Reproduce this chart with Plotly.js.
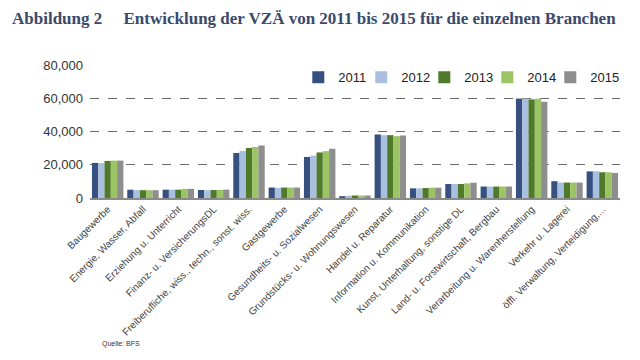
<!DOCTYPE html>
<html>
<head>
<meta charset="utf-8">
<script src="https://cdn.plot.ly/plotly-3.0.1.min.js"></script>
<style>html,body{margin:0;padding:0;background:#fff;}#chart{width:640px;height:360px;}</style>
</head>
<body>
<div id="chart"></div>
<script>
const categories = [
  "Baugewerbe",
  "Energie, Wasser, Abfall",
  "Erziehung u. Unterricht",
  "Finanz- u. VersicherungsDL",
  "Freiberufliche, wiss., techn., sonst. wiss.",
  "Gastgewerbe",
  "Gesundheits- u. Sozialwesen",
  "Grundstücks- u. Wohnungswesen",
  "Handel u. Reparatur",
  "Information u. Kommunikation",
  "Kunst, Unterhaltung, sonstige DL",
  "Land- u. Forstwirtschaft, Bergbau",
  "Verarbeitung u. Warenherstellung",
  "Verkehr u. Lagerei",
  "öffl. Verwaltung, Verteidigung,..."
];
const years = ["2011", "2012", "2013", "2014", "2015"];
const v2011 = [21100, 5000, 5000, 4800, 27100, 6300, 24700, 1100, 38200, 5800, 8400, 6900, 59800, 10100, 16000];
const v2012 = [21000, 4700, 5000, 4700, 28300, 6100, 25500, 1400, 37800, 5800, 8400, 6900, 59800, 9300, 16100];
const v2013 = [22300, 4700, 5000, 4800, 30100, 6300, 27400, 1500, 37800, 6000, 8400, 6900, 59300, 9300, 15500];
const v2014 = [22500, 4700, 5500, 4800, 30700, 6300, 28200, 1500, 37200, 6200, 8800, 6900, 59700, 9300, 15500];
const v2015 = [22500, 4700, 5500, 5000, 31600, 6300, 29600, 1500, 37600, 6200, 9200, 6900, 57900, 9300, 15100];
const series = [v2011, v2012, v2013, v2014, v2015];
const colors = ["#36517f", "#a9bfe0", "#4f7a2a", "#9cc465", "#8e8e8e"];

const data = years.map((y, i) => ({
  type: "bar",
  name: y,
  x: categories,
  y: series[i],
  marker: {color: colors[i], line: {width: 0}},
  legendwidth: i === years.length - 1 ? 30 : 18,
  hoverinfo: "none"
}));

const layout = {
  width: 640, height: 360,
  paper_bgcolor: "#fff", plot_bgcolor: "#fff",
  margin: {l: 90, r: 20, t: 65, b: 162},
  font: {family: "Liberation Sans, Arial, sans-serif", color: "#333"},
  title: {
    text: "Abbildung 2\u00a0\u00a0\u00a0\u00a0\u00a0Entwicklung der VZÄ von 2011 bis 2015 für die einzelnen Branchen",
    font: {family: "Liberation Serif, Times New Roman, serif", size: 17, color: "#3a4a6c", weight: "bold"},
    x: 12/640, xref: "container", xanchor: "left",
    y: 1 - 18/360, yref: "container", yanchor: "middle"
  },
  barmode: "group",
  bargap: 0.11,
  bargroupgap: 0,
  showlegend: true,
  legend: {
    orientation: "h",
    x: 1.01, xanchor: "right",
    y: 1.02, yanchor: "top",
    bgcolor: "#fff",
    font: {size: 13, color: "#222"},
    itemwidth: 30,
    entrywidthmode: "pixels",
    traceorder: "normal"
  },
  xaxis: {
    type: "category",
    tickangle: -45,
    tickfont: {size: 10, color: "#444"},
    showline: true, linecolor: "#8a8a8a", linewidth: 1.5,
    showgrid: false, ticks: "", fixedrange: true
  },
  yaxis: {
    range: [0, 80000],
    tickvals: [0, 20000, 40000, 60000, 80000],
    tickformat: ",",
    tickfont: {size: 13, color: "#333"},
    showgrid: true, gridcolor: "#6a6a6a", griddash: "dash", gridwidth: 1,
    zeroline: false, showline: false, ticks: "",
    ticklabelstandoff: 6, fixedrange: true
  },
  annotations: [{
    text: "Quelle: BFS",
    xref: "paper", yref: "paper",
    x: 10/530, y: (198-344)/133,
    xanchor: "left", yanchor: "middle",
    showarrow: false,
    font: {size: 7, color: "#333"}
  }]
};

Plotly.newPlot("chart", data, layout, {displayModeBar: false, staticPlot: true});
</script>
</body>
</html>
